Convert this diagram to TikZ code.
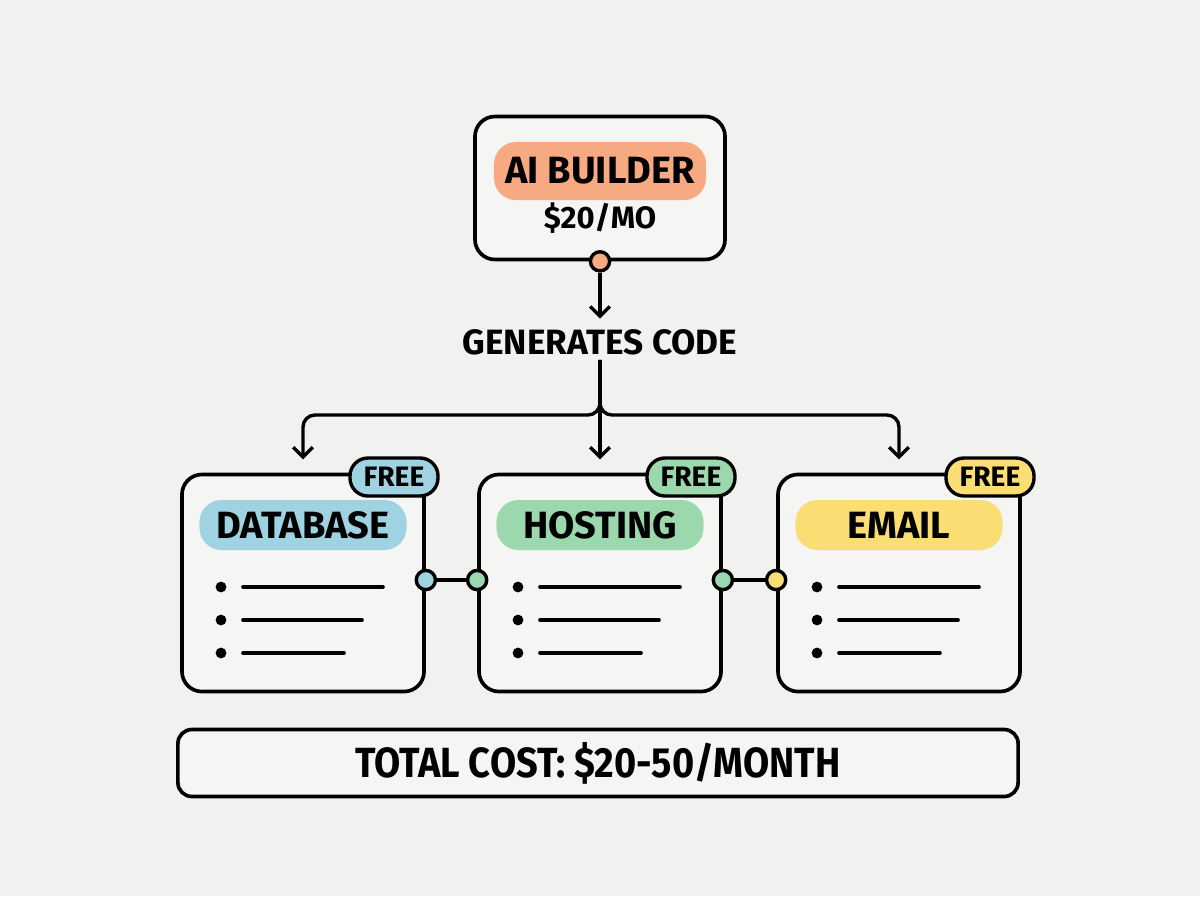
\documentclass[tikz,border=0pt]{standalone}
\usepackage{fontspec}
\setmainfont{Fira Sans}
\newfontfamily\narrowfont[FakeStretch=0.9]{Fira Sans}
\usetikzlibrary{arrows.meta}
\definecolor{canvas}{RGB}{241,241,240}
\definecolor{paper}{RGB}{245,245,244}
\definecolor{builderorange}{RGB}{247,170,130}
\definecolor{dbblue}{RGB}{160,211,226}
\definecolor{hostgreen}{RGB}{155,216,173}
\definecolor{mailyellow}{RGB}{250,222,115}

\begin{document}
\begin{tikzpicture}[
    x=0.025cm, y=-0.025cm,
    >={Straight Barb[length=7pt,width=14pt]},
    box/.style={draw=black, line width=2.6pt, rounded corners=0.5cm, fill=paper},
    blob/.style={rounded corners=0.55cm, inner sep=0pt},
    badge/.style={draw=black, line width=2.4pt, rounded corners=0.45cm, minimum width=2.2cm, minimum height=0.95cm, inner sep=0pt, font=\fontsize{20}{24}\selectfont\bfseries},
    port/.style={circle, draw=black, line width=2.4pt, minimum size=0.48cm, inner sep=0pt},
    link/.style={line width=2.4pt},
    bigtext/.style={font=\fontsize{27}{31}\selectfont\bfseries},
    dot/.style={circle, fill=black, minimum size=0.27cm, inner sep=0pt},
    item/.style={line width=2.6pt, line cap=round}
]
    \fill[canvas] (0,0) rectangle (1200,896);
    \useasboundingbox (0,0) rectangle (1200,896);

    \node[box, minimum width=6.25cm, minimum height=3.575cm] (builder) at (600,188) {};
    \node[blob, fill=builderorange, minimum width=5.3cm, minimum height=1.45cm, bigtext] (builder-hl) at (600,171) {AI BUILDER};
    \node[font=\fontsize{22}{26}\selectfont\bfseries] (price) at (600,218) {\$20/MO};
    \node[port, fill=builderorange] (builderport) at (builder.south) {};

    \node[font=\fontsize{25}{29}\selectfont\bfseries] (gen) at (600,342) {GENERATES CODE};
    \draw[link,->,shorten >=4pt] (builderport) -- (gen);

    \foreach \name/\x/\col/\lab in {database/303/dbblue/DATABASE,hosting/600/hostgreen/HOSTING,email/899/mailyellow/EMAIL} {
        \node[box, minimum width=6.05cm, minimum height=5.425cm] (\name) at (\x,583) {};
        \node[blob, fill=\col, minimum width=5.175cm, minimum height=1.25cm, bigtext] (\name-hl) at (\x,525) {\lab};
        \node[badge, fill=\col] (\name-free) at (\x+91,477) {FREE};
        \foreach \k/\len in {0/140,1/119,2/101} {
            \node[dot] (\name-dot\k) at (\x-82,587+33*\k) {};
            \draw[item] (\x-60,587+33*\k) -- ++(\len,0);
        }
    }

    \coordinate (split) at (600,415);
    \draw[link,->,rounded corners=0.3cm,shorten >=0.33cm] (gen.south) -- (split) -| (database.north);
    \draw[link,->,rounded corners=0.3cm,shorten >=0.33cm] (gen.south) -- (split) -| (email.north);
    \draw[link,->,shorten >=0.33cm] (gen.south) -- (hosting.north);

    \coordinate (row) at (0,580);
    \node[port, fill=dbblue] (dbport) at (database.east |- row) {};
    \node[port, fill=hostgreen] (hostportl) at (hosting.west |- row) {};
    \node[port, fill=hostgreen] (hostportr) at (hosting.east |- row) {};
    \node[port, fill=mailyellow] (mailport) at (email.west |- row) {};
    \draw[link] (dbport) -- (hostportl);
    \draw[link] (hostportr) -- (mailport);

    \node[box, rounded corners=0.35cm, minimum width=21cm, minimum height=1.675cm, font=\narrowfont\fontsize{30}{34}\selectfont\bfseries] (total) at (598,763) {TOTAL COST: \$20-50/MONTH};
\end{tikzpicture}
\end{document}
